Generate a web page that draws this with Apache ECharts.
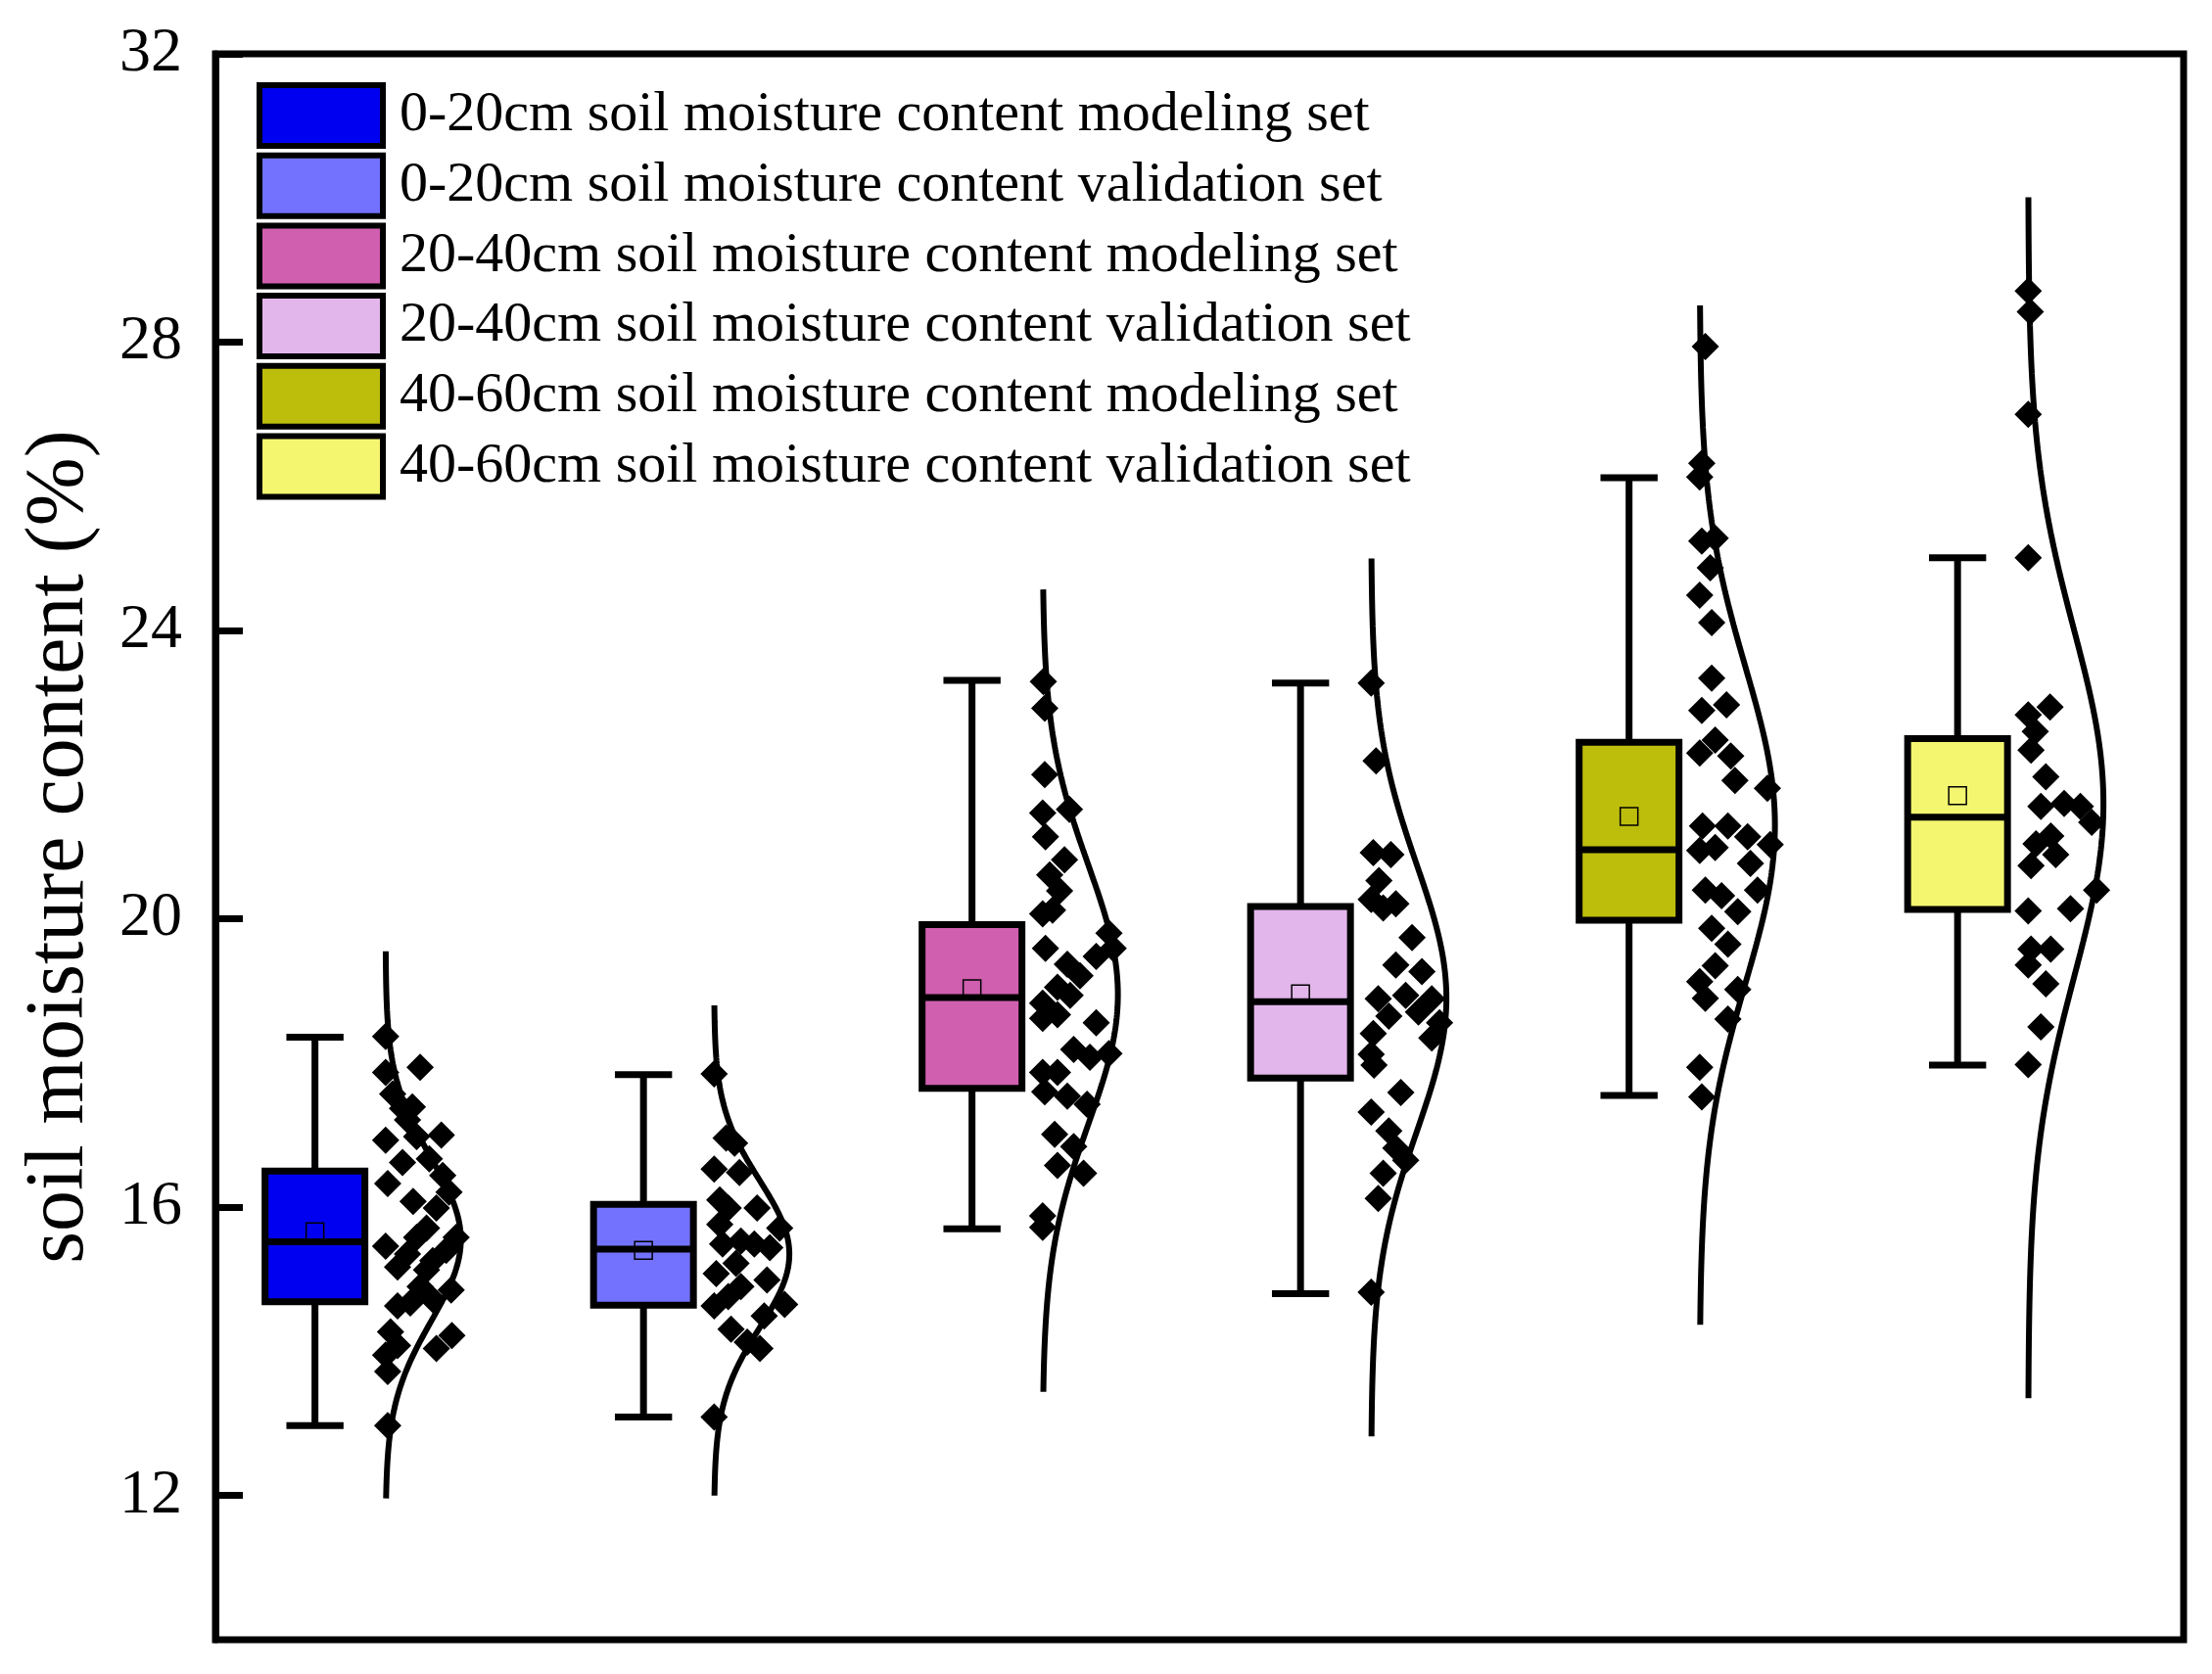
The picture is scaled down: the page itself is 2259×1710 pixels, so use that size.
<!DOCTYPE html>
<html>
<head>
<meta charset="utf-8">
<script src="https://cdn.jsdelivr.net/npm/echarts@6/dist/echarts.min.js"></script>
<style>
html, body { margin: 0; padding: 0; background: #fff; }
#chart1 { width: 2259px; height: 1710px; }
</style>
</head>
<body>
<div id="chart1"></div>
<script>
(function(){

    var groupNames = [
        '0-20cm soil moisture content modeling set',
        '0-20cm soil moisture content validation set',
        '20-40cm soil moisture content modeling set',
        '20-40cm soil moisture content validation set',
        '40-60cm soil moisture content modeling set',
        '40-60cm soil moisture content validation set'
    ];
    var groupColors = ['#0000f0', '#7272ff', '#d05fb0', '#e3b6eb', '#bdbe0c', '#f4f670'];
    var groupX = [1, 2, 3, 4, 5, 6];

    // box statistics
    var boxMin  = [12.97, 13.09, 15.70, 14.80, 17.55, 17.97];
    var boxQ1   = [14.69, 14.64, 17.65, 17.79, 19.98, 20.13];
    var boxMed  = [15.52, 15.42, 18.91, 18.85, 20.96, 21.41];
    var boxQ3   = [16.50, 16.04, 19.92, 20.17, 22.45, 22.50];
    var boxMax  = [18.36, 17.84, 23.31, 23.27, 26.12, 25.01];
    var boxMean = [15.66, 15.40, 19.03, 18.96, 21.42, 21.71];

    // normal distribution curve
    var curveMean = [15.55, 15.35, 18.95, 18.90, 21.30, 21.60];
    var curveSd   = [1.13, 1.02, 1.80, 1.85, 2.20, 2.42];
    var curveLo   = [11.96, 12.00, 13.44, 12.82, 14.37, 13.35];
    var curveHi   = [19.55, 18.80, 24.57, 25.00, 28.51, 30.01];

    // raw points: [value, jitter 0..1]
    var pts1 = [[18.37,0.00],[17.94,0.49],[17.87,0.00],[17.57,0.10],[17.37,0.24],[17.39,0.38],[17.21,0.31],
        [16.98,0.44],[17.00,0.79],[16.93,0.00],[16.67,0.62],[16.62,0.24],[16.33,0.03],[16.44,0.81],
        [16.21,0.90],[16.08,0.39],[15.99,0.72],[15.71,0.58],[15.58,1.00],[15.58,0.44],[15.46,0.00],
        [15.35,0.31],[15.40,0.86],[15.17,0.17],[15.13,0.58],[15.26,0.67],[14.90,0.49],[14.85,0.93],
        [14.63,0.17],[14.67,0.35],[14.72,0.67],[14.27,0.07],[14.22,0.94],[14.04,0.72],[14.08,0.17],
        [13.95,0.00],[13.72,0.03],[12.97,0.03]];
    var pts2 = [[17.85,0.00],[16.96,0.17],[16.89,0.29],[16.53,0.00],[16.48,0.36],[16.10,0.08],[15.99,0.20],
        [15.99,0.61],[15.76,0.08],[15.71,0.93],[15.49,0.12],[15.53,0.38],[15.49,0.57],[15.44,0.79],
        [15.22,0.31],[15.08,0.03],[14.99,0.75],[14.90,0.38],[14.76,0.20],[14.63,0.00],[14.65,1.00],
        [14.49,0.71],[14.31,0.24],[14.13,0.47],[14.04,0.65],[13.09,0.00]];
    var pts3 = [[23.29,0.01],[22.92,0.03],[22.00,0.03],[21.47,0.00],[21.52,0.38],[21.14,0.04],[20.82,0.31],
        [20.61,0.10],[20.39,0.24],[20.07,0.00],[20.12,0.14],[19.59,0.04],[19.80,0.94],[19.48,0.76],
        [19.59,1.00],[19.37,0.35],[19.21,0.53],[19.05,0.21],[18.83,0.00],[18.94,0.39],[18.62,0.00],
        [18.67,0.21],[18.56,0.76],[18.13,0.94],[18.19,0.44],[18.08,0.67],[17.87,0.00],[17.87,0.21],
        [17.60,0.03],[17.54,0.35],[17.43,0.63],[17.01,0.17],[16.84,0.44],[16.58,0.21],[16.47,0.58],
        [15.88,0.00],[15.72,0.00]];
    var pts4 = [[23.27,0.00],[22.19,0.07],[20.92,0.03],[20.89,0.28],[20.53,0.11],[20.27,0.00],[20.15,0.17],
        [20.21,0.35],[19.74,0.58],[19.36,0.35],[19.27,0.72],[18.89,0.10],[18.94,0.49],[18.65,0.25],
        [18.71,0.67],[18.89,0.86],[18.56,0.97],[18.35,0.86],[18.41,0.03],[18.12,0.00],[17.97,0.04],
        [17.59,0.42],[17.32,0.00],[17.06,0.25],[16.82,0.35],[16.65,0.49],[16.47,0.17],[16.12,0.10],
        [14.82,0.00]];
    var pts5 = [[27.94,0.08],[26.32,0.03],[26.13,0.00],[25.24,0.03],[24.87,0.15],[25.28,0.22],[24.49,0.00],
        [24.11,0.17],[23.34,0.17],[22.97,0.38],[22.89,0.03],[22.48,0.22],[22.30,0.00],[22.26,0.44],
        [21.92,0.50],[21.81,0.96],[21.29,0.04],[21.29,0.40],[21.14,0.68],[21.03,1.00],[20.95,0.00],
        [20.99,0.22],[20.77,0.72],[20.40,0.08],[20.32,0.31],[20.40,0.82],[20.10,0.54],[19.87,0.17],
        [19.65,0.40],[19.35,0.22],[19.13,0.00],[19.02,0.54],[18.90,0.08],[18.61,0.40],[17.94,0.00],
        [17.53,0.03]];
    var pts6 = [[28.71,0.00],[28.42,0.03],[27.00,0.00],[25.01,0.00],[22.83,0.00],[22.94,0.31],[22.60,0.10],
        [22.34,0.04],[21.97,0.25],[21.56,0.18],[21.60,0.51],[21.56,0.74],[21.34,0.90],[21.15,0.32],
        [21.04,0.11],[20.89,0.39],[20.74,0.04],[20.11,0.00],[20.14,0.60],[20.40,0.97],[19.58,0.04],
        [19.58,0.32],[19.36,0.00],[19.10,0.25],[18.50,0.18],[17.98,0.00]];
    var allPts = [pts1, pts2, pts3, pts4, pts5, pts6];

    var yTicks = [12, 16, 20, 24, 28, 32];

    var FONT = 'Liberation Serif';
    var LW = 7;
    var BOX_HALF = 0.152;
    var CAP_HALF = 0.087;
    var CURVE_OFF = 0.215;
    var CURVE_PEAK = 0.229;
    var JIT_W = 0.2146;

    function renderBox(params, api) {
        var x = api.value(0);
        var cMin = api.coord([x, api.value(1)]);
        var cQ1 = api.coord([x, api.value(2)]);
        var cMed = api.coord([x, api.value(3)]);
        var cQ3 = api.coord([x, api.value(4)]);
        var cMax = api.coord([x, api.value(5)]);
        var cMean = api.coord([x, api.value(6)]);
        var boxL = api.coord([x - BOX_HALF, 20])[0];
        var boxR = api.coord([x + BOX_HALF, 20])[0];
        var capL = api.coord([x - CAP_HALF, 20])[0];
        var capR = api.coord([x + CAP_HALF, 20])[0];
        var ln = {stroke: '#000', lineWidth: LW};
        return {
            type: 'group',
            children: [
                {type: 'line', shape: {x1: cMax[0], y1: cMax[1], x2: cQ3[0], y2: cQ3[1]}, style: ln},
                {type: 'line', shape: {x1: cQ1[0], y1: cQ1[1], x2: cMin[0], y2: cMin[1]}, style: ln},
                {type: 'line', shape: {x1: capL, y1: cMax[1], x2: capR, y2: cMax[1]}, style: ln},
                {type: 'line', shape: {x1: capL, y1: cMin[1], x2: capR, y2: cMin[1]}, style: ln},
                {type: 'rect', shape: {x: boxL, y: cQ3[1], width: boxR - boxL, height: cQ1[1] - cQ3[1]},
                    style: {fill: api.visual('color'), stroke: '#000', lineWidth: LW}},
                {type: 'line', shape: {x1: boxL, y1: cMed[1], x2: boxR, y2: cMed[1]}, style: ln},
                {type: 'rect', shape: {x: cMean[0] - 9, y: cMean[1] - 9, width: 18, height: 18},
                    style: {fill: 'transparent', stroke: '#000', lineWidth: 1.5}}
            ]
        };
    }

    var series = [];
    var legendData = [];
    for (var i = 0; i < 6; i++) {
        legendData.push({
            name: groupNames[i],
            icon: 'rect',
            itemStyle: {color: groupColors[i], borderColor: '#000', borderWidth: 6}
        });
        series.push({
            name: groupNames[i],
            type: 'custom',
            renderItem: renderBox,
            itemStyle: {color: groupColors[i]},
            encode: {x: 0, y: [1, 2, 3, 4, 5]},
            data: [[groupX[i], boxMin[i], boxQ1[i], boxMed[i], boxQ3[i], boxMax[i], boxMean[i]]],
            z: 2
        });

        var base = groupX[i] + CURVE_OFF;
        var sc = [];
        for (var k = 0; k < allPts[i].length; k++) {
            sc.push([base + allPts[i][k][1] * JIT_W, allPts[i][k][0]]);
        }
        series.push({
            name: 'points' + (i + 1),
            type: 'scatter',
            symbol: 'diamond',
            symbolSize: 28,
            itemStyle: {color: '#000', opacity: 1},
            data: sc,
            z: 3
        });

        var cv = [];
        var steps = 300;
        for (var s = 0; s <= steps; s++) {
            var v = curveLo[i] + (curveHi[i] - curveLo[i]) * s / steps;
            var zz = (v - curveMean[i]) / curveSd[i];
            cv.push([base + CURVE_PEAK * Math.exp(-0.5 * zz * zz), v]);
        }
        series.push({
            name: 'curve' + (i + 1),
            type: 'line',
            symbol: 'none',
            showSymbol: false,
            lineStyle: {color: '#000', width: 6},
            data: cv,
            z: 4
        });
    }

    var option = {
        animation: false,
        backgroundColor: '#fff',
        grid: {
            left: 220, top: 55, right: 29, bottom: 35,
            show: true, borderColor: '#000', borderWidth: LW,
            containLabel: false, outerBoundsMode: 'none'
        },
        legend: {
            orient: 'vertical',
            left: 262, top: 84,
            padding: 0,
            itemWidth: 126, itemHeight: 62, itemGap: 3.7,
            selectedMode: false,
            textStyle: {fontFamily: FONT, fontSize: 58, color: '#000', padding: [0, 0, 0, 12]},
            data: legendData
        },
        xAxis: {
            type: 'value', min: 0.697, max: 6.688, show: false
        },
        yAxis: {
            type: 'value', min: 10, max: 32, interval: 2,
            name: 'soil moisture content (%)',
            nameLocation: 'middle', nameGap: 116,
            nameTextStyle: {fontFamily: FONT, fontSize: 84, color: '#000'},
            axisLine: {show: true, lineStyle: {color: '#000', width: LW}},
            axisTick: {show: true, inside: true, length: 28, lineStyle: {color: '#000', width: LW}, customValues: yTicks},
            axisLabel: {fontFamily: FONT, fontSize: 64, color: '#000', margin: 34, customValues: yTicks},
            splitLine: {show: false}
        },
        series: series
    };

    var chart1 = echarts.init(document.getElementById('chart1'));
    chart1.setOption(option);
    window.onresize = chart1.resize;

})();
</script>
</body>
</html>
